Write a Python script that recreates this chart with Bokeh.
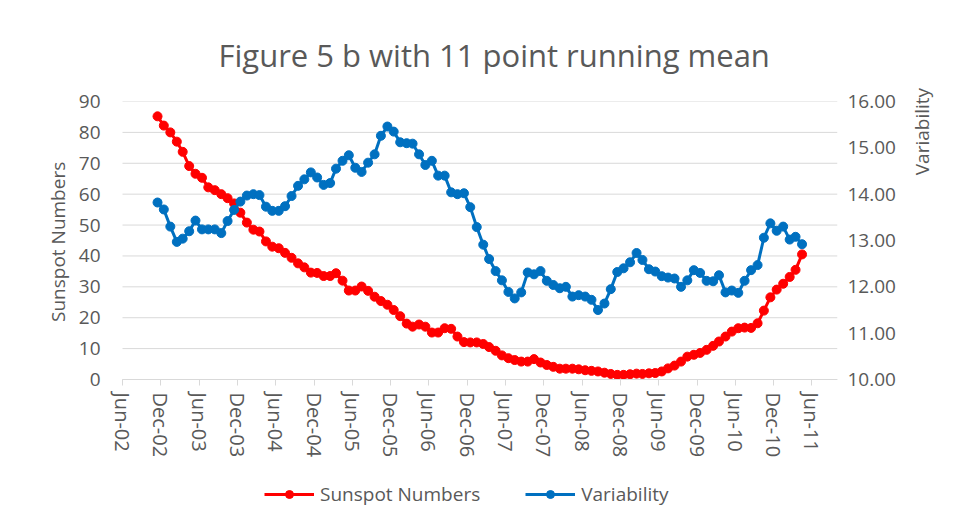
import math
import pandas as pd
from bokeh.plotting import figure
from bokeh.models import (Range1d, LinearAxis, FixedTicker, DatetimeTickFormatter,
                          NumeralTickFormatter, Legend, LegendItem, ColumnDataSource)
from bokeh.embed import file_html
from bokeh.resources import INLINE

# ---------------- data ----------------
first_month = "2002-11-15"   # monthly points (mid-month), 11 point running mean
n_points = 102

sunspot_numbers = [
    85.2, 82.2, 80.0, 77.0, 73.7, 69.1, 66.6, 65.3, 62.2, 61.3, 60.0, 58.7, 57.0, 54.0, 50.8,
    48.5, 47.9, 44.7, 43.0, 42.5, 41.0,
    39.4, 37.6, 36.3, 34.6, 34.5, 33.5, 33.5, 34.4, 32.0, 28.8, 28.8, 30.1, 28.7, 26.8, 25.4,
    24.2, 22.5, 20.5, 18.1, 17.1,
    17.8, 17.1, 15.2, 15.2, 16.6, 16.4, 13.9, 12.1, 12.0, 12.0, 11.5, 10.5, 9.3, 7.8, 6.9,
    6.3, 5.8, 5.8, 6.6, 5.5,
    4.7, 4.1, 3.5, 3.5, 3.5, 3.3, 3.0, 2.8, 2.6, 2.2, 1.8, 1.5, 1.5, 1.7, 1.9, 1.8, 2.0, 2.1, 2.6,
    3.6, 4.5, 5.8, 7.4, 8.0, 8.6, 9.6, 10.9, 12.3, 13.9, 15.5, 16.6, 16.8, 16.7, 18.2, 22.3,
    26.6, 29.1, 31.0, 33.2, 35.5, 40.5,
]

variability = [
    13.82, 13.67, 13.30, 12.97, 13.04, 13.20, 13.43, 13.24, 13.24, 13.24, 13.16, 13.42, 13.66,
    13.84, 13.97, 14.00, 13.98, 13.73, 13.64, 13.64, 13.74, 13.96, 14.18, 14.32, 14.47, 14.36,
    14.20, 14.24, 14.55, 14.72, 14.84, 14.57, 14.48, 14.68, 14.86, 15.26, 15.46, 15.35, 15.12,
    15.10, 15.09, 14.86, 14.63, 14.72, 14.40, 14.40, 14.04, 14.00, 14.02, 13.72, 13.29, 12.91,
    12.60, 12.34, 12.14, 11.89, 11.75, 11.88, 12.31, 12.27, 12.34, 12.13, 12.04, 11.97, 12.00,
    11.79, 11.82, 11.79, 11.72, 11.50, 11.64, 11.95, 12.32, 12.40, 12.53, 12.73, 12.58, 12.38,
    12.33, 12.23, 12.20, 12.18, 12.00, 12.14, 12.36, 12.30, 12.13, 12.12, 12.25, 11.88, 11.92,
    11.87, 12.13, 12.36, 12.47, 13.06, 13.37, 13.21, 13.30, 13.02, 13.08, 12.92,
]

x_tick_labels = ["Jun-02", "Dec-02", "Jun-03", "Dec-03", "Jun-04", "Dec-04", "Jun-05", "Dec-05",
                 "Jun-06", "Dec-06", "Jun-07", "Dec-07", "Jun-08", "Dec-08", "Jun-09", "Dec-09",
                 "Jun-10", "Dec-10", "Jun-11"]
left_ticks = [0, 10, 20, 30, 40, 50, 60, 70, 80, 90]
right_ticks = [10, 11, 12, 13, 14, 15, 16]

dates = pd.date_range("2002-11-01", periods=n_points, freq="MS") + pd.Timedelta(days=14)
src = ColumnDataSource(dict(date=dates, sun=sunspot_numbers, var=variability))

tick_dates = [pd.to_datetime(t, format="%b-%y") for t in x_tick_labels]
tick_ms = [t.value / 1e6 for t in tick_dates]

# ---------------- layout / styling ----------------
TXT = "#595959"
GRID = "#d9d9d9"
FONT = "Open Sans"
RED = "#ff0000"
BLUE = "#0070c0"
PAD = "\u00a0" * 27   # shifts the axis titles up to the middle of the data area

AXIS_START = pd.Timestamp("2002-06-01").value / 1e6
AXIS_END = pd.Timestamp("2011-10-01").value / 1e6
DATA_W = 715          # px between axis start and end
EXTRA_L = 16          # extra frame px on the left so the first date label is not clipped
x_start = AXIS_START - (AXIS_END - AXIS_START) * EXTRA_L / DATA_W

# frame spans the data area plus the space below it (axis labels + legend)
p = figure(frame_width=DATA_W + EXTRA_L, frame_height=414, output_backend="svg",
           toolbar_location=None, x_axis_type="datetime",
           x_range=Range1d(x_start, AXIS_END),
           y_range=Range1d(-44.03, 90),
           min_border_left=122 - EXTRA_L, min_border_right=120, min_border_top=101,
           min_border_bottom=4)
p.outline_line_color = None
p.background_fill_color = "white"
p.border_fill_color = "white"

p.title.text = "Figure 5 b with 11 point running mean"
p.title.text_font = FONT
p.title.text_font_size = "31px"
p.title.text_font_style = "normal"
p.title.text_color = TXT
p.title.align = "left"
p.title.offset = 96 + EXTRA_L
p.title.standoff = 51

p.extra_y_ranges = {"var": Range1d(7.065, 16)}

# x axis, drawn at y = 0
xa = p.xaxis[0]
xa.fixed_location = 0
xa.bounds = (AXIS_START, AXIS_END)
xa.ticker = FixedTicker(ticks=tick_ms)
fmt = "%b-%y"
xa.formatter = DatetimeTickFormatter(milliseconds=fmt, seconds=fmt, minsec=fmt, minutes=fmt,
                                     hourmin=fmt, hours=fmt, days=fmt, months=fmt, years=fmt)
xa.major_label_orientation = "vertical"
xa.major_label_text_font = FONT
xa.major_label_text_font_size = "20px"
xa.major_label_text_color = TXT
xa.axis_line_color = GRID
xa.major_tick_line_color = GRID
xa.major_tick_in = 0
xa.major_tick_out = 6
xa.minor_tick_line_color = None
xa.major_label_standoff = 7

# left axis
ya = p.yaxis[0]
ya.ticker = FixedTicker(ticks=left_ticks)
ya.axis_label = PAD + "Sunspot Numbers"
ya.axis_label_text_font = FONT
ya.axis_label_text_font_size = "19px"
ya.axis_label_text_font_style = "normal"
ya.axis_label_text_color = TXT
ya.axis_label_standoff = 5
ya.major_label_text_font = FONT
ya.major_label_text_font_size = "19px"
ya.major_label_text_color = TXT
ya.axis_line_color = None
ya.major_tick_line_color = None
ya.minor_tick_line_color = None
ya.major_label_standoff = 16 - EXTRA_L

# right axis
ra = LinearAxis(y_range_name="var", ticker=FixedTicker(ticks=right_ticks),
                formatter=NumeralTickFormatter(format="0.00"))
ra.axis_label = PAD + "Variability"
ra.axis_label_orientation = math.pi / 2
ra.axis_label_text_font = FONT
ra.axis_label_text_font_size = "19px"
ra.axis_label_text_font_style = "normal"
ra.axis_label_text_color = TXT
ra.axis_label_standoff = 23
ra.major_label_text_font = FONT
ra.major_label_text_font_size = "19px"
ra.major_label_text_color = TXT
ra.axis_line_color = None
ra.major_tick_line_color = None
ra.minor_tick_line_color = None
ra.major_label_standoff = 4
p.add_layout(ra, "right")

# horizontal gridlines only across the dated part of the axis
p.xgrid.grid_line_color = None
p.ygrid.grid_line_color = None
grid_src = ColumnDataSource(dict(x0=[AXIS_START] * len(left_ticks),
                                 x1=[AXIS_END] * len(left_ticks),
                                 y=left_ticks))
p.segment(x0="x0", y0="y", x1="x1", y1="y", source=grid_src, line_color=GRID, line_width=1)

# series
r_line = p.line("date", "sun", source=src, line_color=RED, line_width=3)
r_pts = p.scatter("date", "sun", source=src, size=9, fill_color=RED, line_color=RED)
b_line = p.line("date", "var", source=src, line_color=BLUE, line_width=3, y_range_name="var")
b_pts = p.scatter("date", "var", source=src, size=9, fill_color=BLUE, line_color=BLUE,
                  y_range_name="var")

legend = Legend(items=[LegendItem(label="Sunspot Numbers", renderers=[r_line, r_pts]),
                       LegendItem(label="Variability", renderers=[b_line, b_pts])],
                orientation="horizontal", location=(142 + EXTRA_L, 8),
                glyph_width=50, glyph_height=20, label_standoff=6, spacing=45,
                padding=0, margin=0,
                label_text_font=FONT, label_text_font_size="19px", label_text_color=TXT,
                border_line_color=None, background_fill_alpha=0)
p.add_layout(legend, "center")

open("out.html", "w").write(file_html(p, INLINE))
